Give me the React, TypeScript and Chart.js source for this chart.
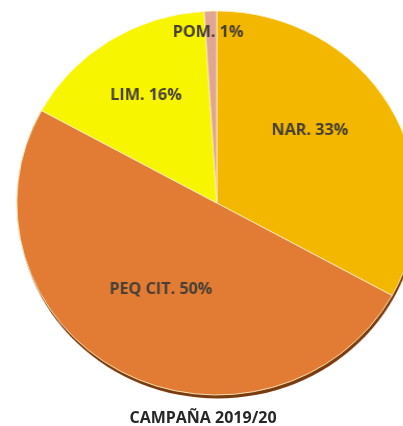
import React, { useEffect, useRef } from "react";
import { Chart, registerables } from "chart.js";

Chart.register(...registerables);

const categories = ["NAR.", "PEQ CIT.", "LIM.", "POM."];
const shares = [33, 50, 16, 1];
const sliceColors = ["#F3B700", "#E27C35", "#F8F500", "#E0A593"];
// label placement (fraction of radius, angular shift in degrees)
const labelRadius = [0.6, 0.53, 0.66, 0.89];
const labelShift = [-8.5, 3, 0, -1];
const title = "CAMPAÑA 2019/20";

const shadowPlugin = {
  id: "pieShadow",
  beforeDatasetsDraw(chart: any) {
    const meta = chart.getDatasetMeta(0);
    const el = meta.data[0];
    if (!el) return;
    const { x, y, outerRadius } = el.getProps(["x", "y", "outerRadius"], true);
    const ctx = chart.ctx;
    ctx.save();
    ctx.beginPath();
    ctx.arc(x + 1, y + 3.5, outerRadius, 0, Math.PI * 2);
    ctx.fillStyle = "#7a3c0e";
    ctx.fill();
    ctx.restore();
  },
};

const labelPlugin = {
  id: "sliceLabels",
  afterDatasetsDraw(chart: any) {
    const meta = chart.getDatasetMeta(0);
    const ctx = chart.ctx;
    ctx.save();
    ctx.font = "bold 15.5px 'Open Sans', sans-serif";
    ctx.fillStyle = "#463f35";
    ctx.textAlign = "center";
    ctx.textBaseline = "middle";
    meta.data.forEach((el: any, i: number) => {
      const p = el.getProps(["x", "y", "startAngle", "endAngle", "outerRadius"], true);
      const mid = (p.startAngle + p.endAngle) / 2 + (labelShift[i] * Math.PI) / 180;
      const r = p.outerRadius * labelRadius[i];
      const tx = p.x + r * Math.cos(mid);
      const ty = p.y + r * Math.sin(mid);
      ctx.fillText(`${categories[i]} ${shares[i]}%`, tx, ty);
    });
    ctx.restore();
  },
};

export default function App() {
  const ref = useRef<HTMLCanvasElement | null>(null);
  useEffect(() => {
    if (!ref.current) return;
    const chart = new Chart(ref.current, {
      type: "pie",
      data: {
        labels: categories,
        datasets: [
          {
            data: shares,
            backgroundColor: sliceColors,
            borderColor: "rgba(255,245,200,0.85)",
            borderWidth: 1,
          },
        ],
      },
      options: {
        responsive: false,
        maintainAspectRatio: false,
        animation: false,
        radius: 192,
        layout: { padding: { left: 16, right: 32, top: 11, bottom: 31 } },
        plugins: {
          legend: { display: false },
          tooltip: { enabled: false },
          title: { display: false },
        },
      } as any,
      plugins: [shadowPlugin, labelPlugin],
    });
    return () => chart.destroy();
  }, []);

  return (
    <div
      style={{
        position: "absolute",
        left: 0,
        top: 0,
        width: 403,
        height: 426,
        overflow: "hidden",
        background: "#ffffff",
      }}
    >
      <div style={{ transform: "scaleX(1.042)", transformOrigin: "0 0", width: 432 }}>
        <canvas ref={ref} width={432} height={426} style={{ display: "block" }} />
      </div>
      <div
        style={{
          position: "absolute",
          left: 0,
          width: 406,
          top: 406,
          textAlign: "center",
          font: "bold 16px 'Open Sans', sans-serif",
          color: "#262626",
          whiteSpace: "nowrap",
        }}
      >
        {title}
      </div>
    </div>
  );
}
